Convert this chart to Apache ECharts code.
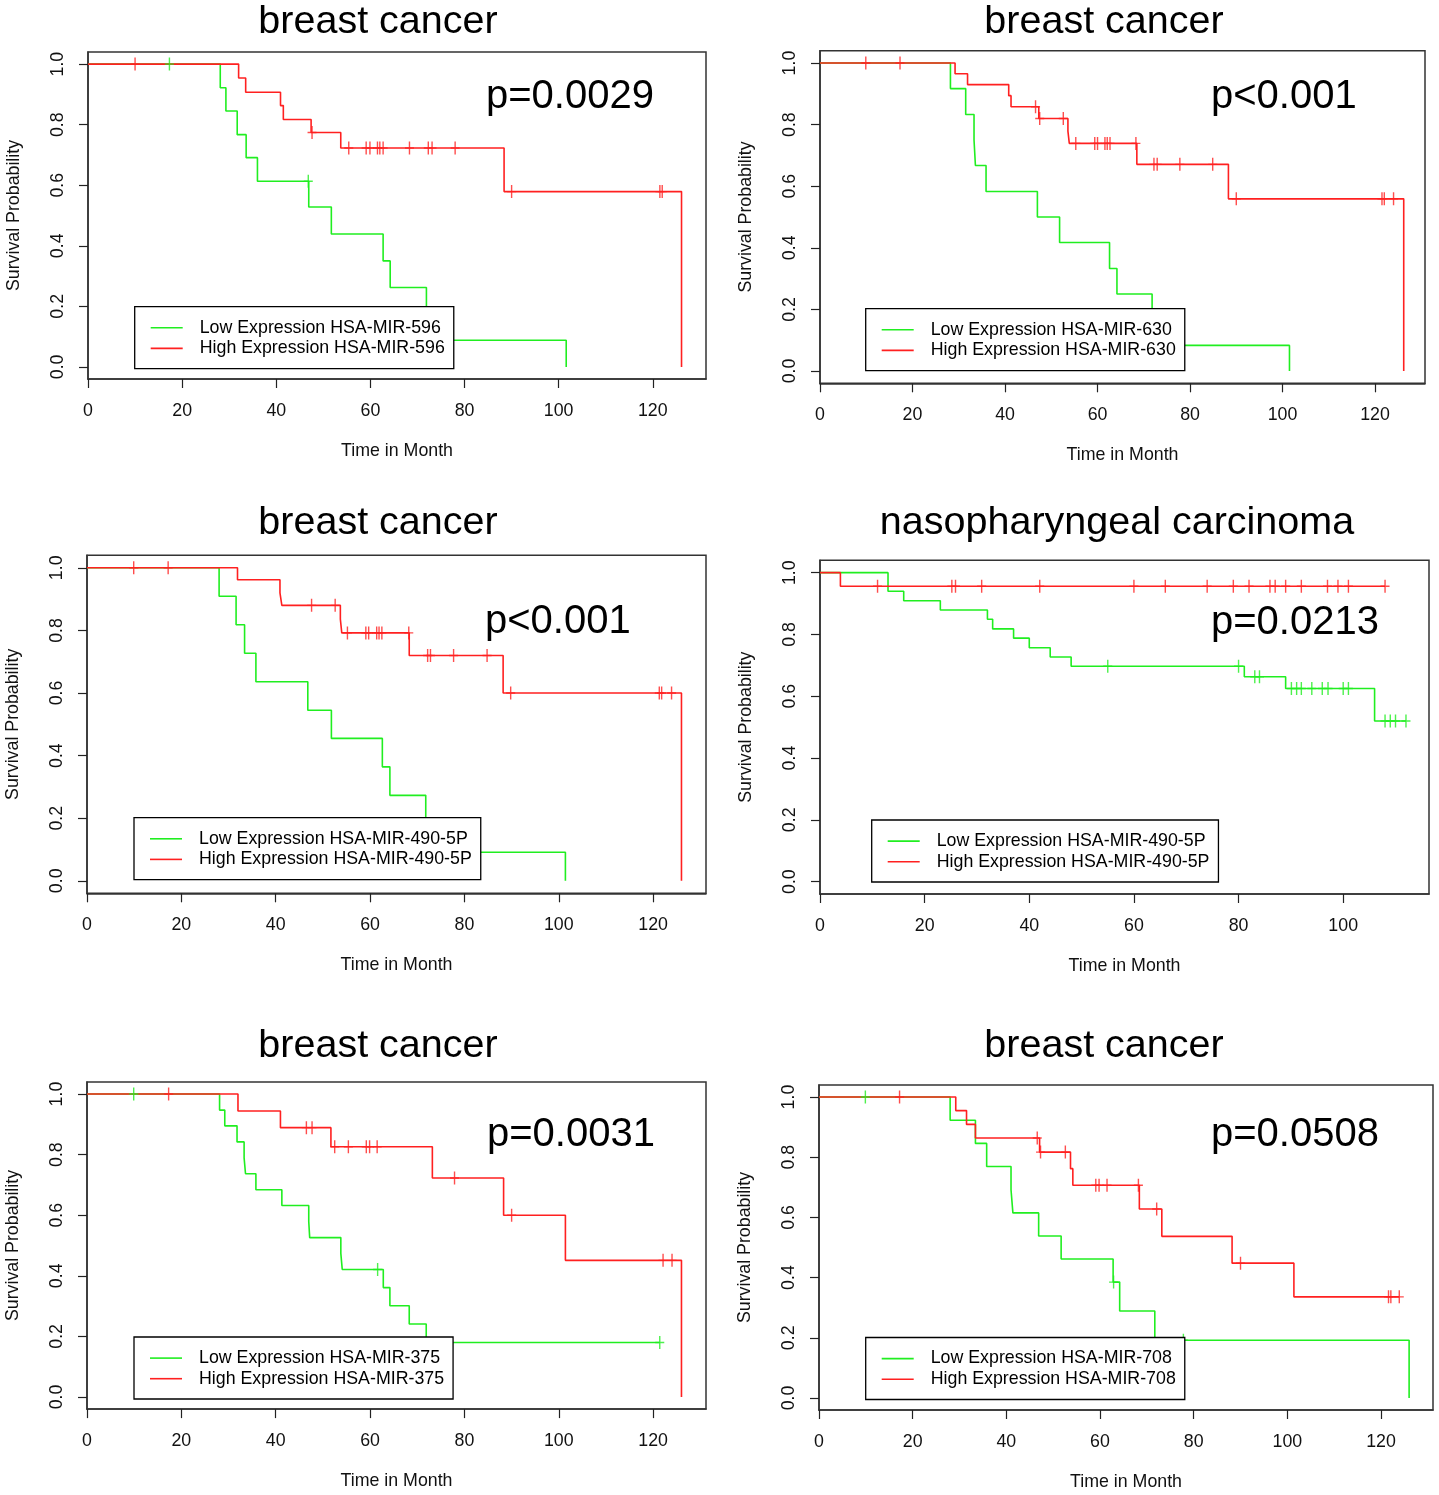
<!DOCTYPE html>
<html>
<head>
<meta charset="utf-8">
<script src="https://cdn.jsdelivr.net/npm/echarts@6/dist/echarts.min.js"></script>
<style>
html,body{margin:0;padding:0;background:#fff;}
#c{width:1439px;height:1495px;}
</style>
</head>
<body>
<div id="c"></div>
<script>
// ---------- DATA ----------
const titles = ['breast cancer','breast cancer','breast cancer','nasopharyngeal carcinoma','breast cancer','breast cancer'];
const pValues = ['p=0.0029','p<0.001','p<0.001','p=0.0213','p=0.0031','p=0.0508'];
const markers = ['HSA-MIR-596','HSA-MIR-630','HSA-MIR-490-5P','HSA-MIR-490-5P','HSA-MIR-375','HSA-MIR-708'];
const xTicksLong = [0,20,40,60,80,100,120];
const xTicksShort = [0,20,40,60,80,100];
const yTicks = [0,0.2,0.4,0.6,0.8,1.0];

// Panel 1
const p1LowTime   = [0,28.1,29.3,31.7,33.6,36.0,46.9,51.7,62.7,64.2,71.9,74.0,101.6];
const p1LowSurv   = [1,0.922,0.845,0.767,0.691,0.613,0.528,0.439,0.350,0.262,0.176,0.088,0];
const p1LowCensor = [17.3,46.8];
const p1HighTime  = [0,32.0,33.5,40.9,41.5,47.4,53.7,88.4,126.1];
const p1HighSurv  = [1,0.954,0.907,0.863,0.817,0.774,0.723,0.579,0];
const p1HighCensor= [10.0,47.6,55.4,59.1,59.9,61.5,62.0,62.7,68.3,72.3,73.1,78.0,90.0,121.5,122.0];

// Panel 2
const p2LowTime   = [0,28.2,31.5,33.3,33.6,35.9,47.0,51.8,62.6,64.2,71.8,74.0,101.5];
const p2LowSurv   = [1,0.917,0.833,0.75,0.667,0.583,0.5,0.417,0.333,0.25,0.167,0.083,0];
const p2LowCensor = [];
const p2HighTime  = [0,29.2,31.9,40.8,41.3,47.3,53.6,53.9,68.5,88.3,126.2];
const p2HighSurv  = [1,0.965,0.93,0.894,0.858,0.82,0.779,0.739,0.671,0.559,0];
const p2HighCensor= [9.9,17.3,46.6,47.5,52.6,55.3,59.4,60.0,61.6,62.1,62.7,68.3,72.2,72.9,77.8,84.9,90.0,121.5,122.0,124.0];

// Panel 3
const p3LowTime   = [0,28.0,31.6,33.4,35.8,46.8,51.8,62.6,64.2,71.8,74.0,101.4];
const p3LowSurv   = [1,0.909,0.818,0.727,0.636,0.545,0.455,0.364,0.273,0.182,0.091,0];
const p3LowCensor = [];
const p3HighTime  = [0,31.9,40.9,41.3,53.7,54.0,68.3,88.2,126.0];
const p3HighSurv  = [1,0.962,0.92,0.88,0.836,0.792,0.72,0.6,0];
const p3HighCensor= [9.9,17.2,47.6,52.6,55.2,59.1,59.7,61.4,61.9,62.5,68.2,72.2,72.8,77.7,84.8,89.8,121.3,121.8,123.9];

// Panel 4
const p4LowTime   = [0,13.0,16.0,23.0,32.0,33.0,37.0,40.0,44.0,48.0,81.1,89.0,106.0];
const p4LowSurv   = [1,0.94,0.909,0.879,0.849,0.818,0.788,0.757,0.727,0.697,0.663,0.625,0.52];
const p4LowCensor = [55.0,80.0,83.1,84.0,90.1,91.1,92.0,94.0,96.0,97.1,100.0,101.0,108.0,109.0,110.0,112.0];
const p4HighTime  = [0,3.9];
const p4HighSurv  = [1,0.956];
const p4HighCensor= [11.0,25.2,25.9,30.9,42.0,60.0,66.0,74.0,79.0,82.0,86.0,87.0,89.0,92.0,97.0,99.0,101.0,108.0];

// Panel 5
const p5LowTime   = [0,28.1,29.2,31.8,33.3,33.6,35.8,41.3,47.0,47.2,53.8,54.1,62.8,64.2,68.3,71.9];
const p5LowSurv   = [1,0.947,0.895,0.842,0.789,0.737,0.684,0.632,0.579,0.526,0.474,0.421,0.361,0.301,0.241,0.18];
const p5LowCensor = [9.9,61.6,121.4];
const p5HighTime  = [0,32.0,41.0,51.7,73.2,88.3,101.4,126.0];
const p5HighSurv  = [1,0.944,0.889,0.826,0.723,0.6,0.451,0];
const p5HighCensor= [17.3,46.5,47.7,52.5,55.4,59.2,59.9,61.5,77.9,90.0,122.1,124.0];

// Panel 6
const p6LowTime   = [0,28.0,33.4,35.8,41.0,41.4,46.9,51.7,62.8,64.2,71.7,126.0];
const p6LowSurv   = [1,0.923,0.846,0.769,0.692,0.615,0.538,0.462,0.385,0.289,0.192,0];
const p6LowCensor = [9.9,62.9,77.8];
const p6HighTime  = [0,29.2,31.5,33.4,47.1,53.7,54.2,68.4,73.2,88.2,101.4];
const p6HighSurv  = [1,0.955,0.909,0.864,0.817,0.762,0.707,0.628,0.537,0.448,0.336];
const p6HighCensor= [17.2,46.6,47.3,52.6,59.1,59.8,61.5,68.2,72.1,90.0,121.6,122.1,123.9];

const panelData = [
  {lowT:p1LowTime, lowS:p1LowSurv, lowC:p1LowCensor, highT:p1HighTime, highS:p1HighSurv, highC:p1HighCensor, ticks:xTicksLong},
  {lowT:p2LowTime, lowS:p2LowSurv, lowC:p2LowCensor, highT:p2HighTime, highS:p2HighSurv, highC:p2HighCensor, ticks:xTicksLong},
  {lowT:p3LowTime, lowS:p3LowSurv, lowC:p3LowCensor, highT:p3HighTime, highS:p3HighSurv, highC:p3HighCensor, ticks:xTicksLong},
  {lowT:p4LowTime, lowS:p4LowSurv, lowC:p4LowCensor, highT:p4HighTime, highS:p4HighSurv, highC:p4HighCensor, ticks:xTicksShort},
  {lowT:p5LowTime, lowS:p5LowSurv, lowC:p5LowCensor, highT:p5HighTime, highS:p5HighSurv, highC:p5HighCensor, ticks:xTicksLong},
  {lowT:p6LowTime, lowS:p6LowSurv, lowC:p6LowCensor, highT:p6HighTime, highS:p6HighSurv, highC:p6HighCensor, ticks:xTicksLong}
];

// ---------- LAYOUT ----------
const layout = [
  {left:88,  top:52,     width:618, height:327,   xMax:131.3, titleX:378,  titleY:22,   pX:486,  pY:97,     legL:134.7, legT:306.7},
  {left:820, top:50.7,   width:605, height:332.6, xMax:130.8, titleX:1104, titleY:22,   pX:1211, pY:97,     legL:865.7, legT:308.7},
  {left:87,  top:555.3,  width:619, height:338,   xMax:131.2, titleX:378,  titleY:523,  pX:485,  pY:622,    legL:134,   legT:817.7},
  {left:820, top:560.3,  width:609, height:333.7, xMax:116.4, titleX:1117, titleY:523,  pX:1211, pY:622.5,  legL:871.7, legT:820},
  {left:87,  top:1081.9, width:619, height:327.2, xMax:131.2, titleX:378,  titleY:1046, pX:487,  pY:1134.5, legL:134,   legT:1337},
  {left:819, top:1085,   width:614, height:325,   xMax:131.1, titleX:1104, titleY:1046, pX:1211, pY:1135,   legL:865.7, legT:1337.5}
];

const FONT = '"Liberation Sans", Arial, Helvetica, sans-serif';
const RED = '#ff2020';
const GREEN = '#20ee20';
const AX = '#222';
const PLUS = 'path://M-0.7,-6.5H0.7V6.5H-0.7Z M-4.5,-0.7H4.5V0.7H-4.5Z';

function survAt(times, surv, t) {
  let v = surv[0];
  for (let i = 0; i < times.length; i++) { if (times[i] <= t) v = surv[i]; }
  return v;
}
function curve(times, surv, censor) {
  const pts = times.map((t, i) => [t, surv[i]]);
  const lastC = censor.length ? Math.max.apply(null, censor) : -1;
  if (lastC > times[times.length - 1]) pts.push([lastC, surv[surv.length - 1]]);
  return pts;
}
function censorPts(times, surv, censor) {
  return censor.map(t => [t, survAt(times, surv, t)]);
}

const grid = [], xAxis = [], yAxis = [], series = [], legend = [], title = [], graphic = [];

layout.forEach((L, i) => {
  const D = panelData[i];
  const lowName = 'Low Expression ' + markers[i];
  const highName = 'High Expression ' + markers[i];
  grid.push({left:L.left, top:L.top, width:L.width, height:L.height, show:true,
    borderColor:'#333', borderWidth:1.5, backgroundColor:'rgba(0,0,0,0)', containLabel:false, outerBoundsMode:'none'});
  xAxis.push({type:'value', gridIndex:i, min:0, max:L.xMax,
    axisLine:{show:true, onZero:false, lineStyle:{color:'#333', width:1.5}},
    splitLine:{show:false},
    axisTick:{show:true, customValues:D.ticks, length:9, inside:false, lineStyle:{color:AX, width:1.2}},
    axisLabel:{customValues:D.ticks, margin:23, fontSize:17.8, color:'#111', fontFamily:FONT},
    name:'Time in Month', nameLocation:'middle', nameGap:63,
    nameTextStyle:{fontSize:17.8, color:'#111', fontFamily:FONT}});
  yAxis.push({type:'value', gridIndex:i, min:-0.04, max:1.04,
    axisLine:{show:true, onZero:false, lineStyle:{color:'#333', width:1.5}},
    splitLine:{show:false},
    axisTick:{show:true, customValues:yTicks, length:9, inside:false, lineStyle:{color:AX, width:1.2}},
    axisLabel:{customValues:yTicks, rotate:90, margin:21, fontSize:17.8, color:'#111', fontFamily:FONT,
      formatter: v => Number(v).toFixed(1)},
    name:'Survival Probability', nameLocation:'middle', nameGap:65, nameRotate:90,
    nameTextStyle:{fontSize:17.8, color:'#111', fontFamily:FONT}});
  series.push({type:'line', name:lowName, xAxisIndex:i, yAxisIndex:i, step:'end', showSymbol:false,
    color:GREEN, lineStyle:{color:GREEN, width:1.6}, data:curve(D.lowT, D.lowS, D.lowC), silent:true, z:2});
  series.push({type:'line', name:highName, xAxisIndex:i, yAxisIndex:i, step:'end', showSymbol:false,
    color:RED, lineStyle:{color:RED, width:1.6}, data:curve(D.highT, D.highS, D.highC), silent:true, z:2});
  series.push({type:'scatter', name:'censor low ' + (i+1), xAxisIndex:i, yAxisIndex:i, symbol:PLUS, symbolSize:[9,13],
    itemStyle:{color:GREEN}, data:censorPts(D.lowT, D.lowS, D.lowC), silent:true, z:3});
  series.push({type:'scatter', name:'censor high ' + (i+1), xAxisIndex:i, yAxisIndex:i, symbol:PLUS, symbolSize:[9,13],
    itemStyle:{color:RED}, data:censorPts(D.highT, D.highS, D.highC), silent:true, z:3});
  legend.push({data:[{name:lowName, itemStyle:{color:GREEN}}, {name:highName, itemStyle:{color:RED}}],
    orient:'vertical', left:L.legL, top:L.legT, padding:[10.8, 9, 10, 16], itemGap:0,
    itemWidth:32, itemHeight:1.6, icon:'rect', itemStyle:{borderWidth:0},
    borderColor:'#000', borderWidth:1.3, backgroundColor:'#fff', selectedMode:false, z:10,
    textStyle:{fontSize:17.8, fontFamily:FONT, color:'#000', lineHeight:20.6, padding:[0,0,0,12]}});
  title.push({text:titles[i], left:L.titleX, top:L.titleY, textAlign:'center', textVerticalAlign:'middle', padding:0,
    textStyle:{fontSize:39.5, fontWeight:'normal', fontFamily:FONT, color:'#000'}});
  graphic.push({type:'text', x:L.pX, y:L.pY, z:20,
    style:{text:pValues[i], font:'40px ' + FONT, fill:'#000', align:'left', verticalAlign:'middle', textAlign:'left', textVerticalAlign:'middle'}});
});

const chart = echarts.init(document.getElementById('c'), null, {renderer:'canvas'});
chart.setOption({animation:false, backgroundColor:'#fff', title, grid, xAxis, yAxis, series, legend, graphic});
</script>
</body>
</html>
